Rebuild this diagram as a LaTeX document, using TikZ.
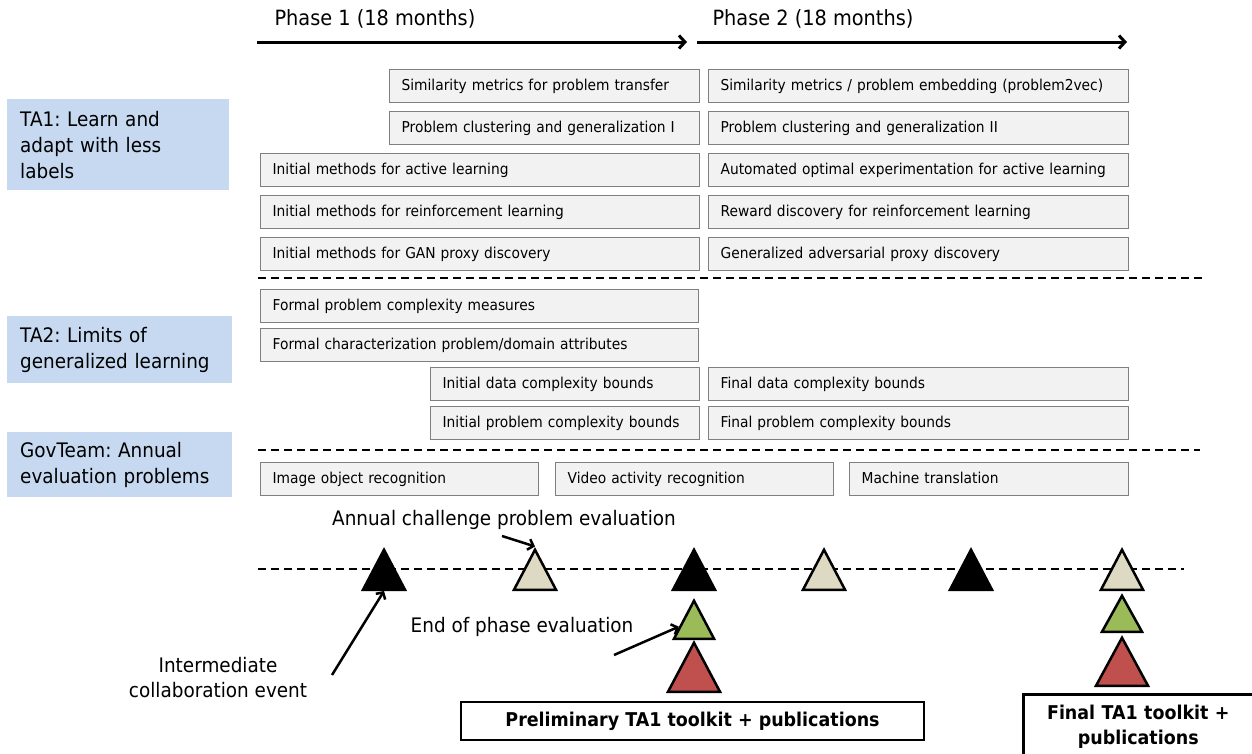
\documentclass[tikz,border=0pt]{standalone}
\usepackage{fontspec}
\setmainfont[FakeStretch=0.92]{DejaVu Sans}
\usetikzlibrary{arrows.meta,shapes.geometric}
\definecolor{tablue}{HTML}{C6D9F1}
\definecolor{taskgray}{HTML}{F2F2F2}
\definecolor{edgegray}{HTML}{7F7F7F}
\definecolor{evaltan}{HTML}{DDD9C3}
\definecolor{evalgreen}{HTML}{9BBB59}
\definecolor{evalred}{HTML}{C0504D}

\tikzset{
  taskbox/.style={draw=edgegray, fill=taskgray, line width=1.2pt, anchor=north west,
    minimum height=33pt, inner xsep=12pt, inner ysep=0pt, align=left,
    text height=13pt, text depth=3.5pt,
    font=\fontsize{15}{18}\selectfont\frenchspacing},
  tabox/.style={fill=tablue, anchor=north west, inner xsep=13pt, inner ysep=0pt,
    align=left, font=\fontsize{20}{26}\selectfont\frenchspacing},
  evtri/.style={isosceles triangle, isosceles triangle stretches, shape border rotate=90,
    draw=black, line width=2.5pt, inner sep=0pt, anchor=south,
    minimum width=42pt, minimum height=40pt},
  sepline/.style={line width=1.3pt, dash pattern=on 8pt off 5pt},
  phasearrow/.style={line width=3pt, -{Straight Barb[length=6pt,width=13pt]}},
  pointer/.style={line width=2.5pt, -{Straight Barb[length=5pt,width=11pt]}},
  notetext/.style={font=\fontsize{20}{25}\selectfont, align=center},
  resultbox/.style={draw=black, line width=2.5pt, fill=white, align=center,
    font=\fontsize{19}{25}\selectfont\bfseries}
}

\begin{document}
\begin{tikzpicture}[x=1pt,y=-1pt]
  \useasboundingbox (0,0) rectangle (1252,753);

  %%%%% phases %%%%%
  \node[anchor=west, font=\fontsize{21}{24}\selectfont] (ph1) at (271,19) {Phase 1 (18 months)};
  \node[anchor=west, font=\fontsize{21}{24}\selectfont] (ph2) at (709,19) {Phase 2 (18 months)};
  \coordinate (p1s) at (257,42);
  \coordinate (p1e) at (687,42);
  \coordinate (p2s) at (697,42);
  \coordinate (p2e) at (1127,42);
  \draw[phasearrow] (p1s) -- (p1e);
  \draw[phasearrow] (p2s) -- (p2e);

  %%%%% TA1 %%%%%
  \node[tabox, text width=196pt, minimum height=91pt] (ta1) at (7,99) {TA1: Learn and\\adapt with less\\labels};

  \node[taskbox, text width=286pt] (simA) at (389,69) {Similarity metrics for problem transfer};
  \node[taskbox, text width=396pt] (simB) at (708,69) {Similarity metrics / problem embedding (problem2vec)};
  \node[taskbox, text width=286pt] (cluA) at (389,111) {Problem clustering and generalization I};
  \node[taskbox, text width=396pt] (cluB) at (708,111) {Problem clustering and generalization II};
  \node[taskbox, text width=415pt] (actA) at (260,153) {Initial methods for active learning};
  \node[taskbox, text width=396pt] (actB) at (708,153) {Automated optimal experimentation for active learning};
  \node[taskbox, text width=415pt] (rlA) at (260,195) {Initial methods for reinforcement learning};
  \node[taskbox, text width=396pt] (rlB) at (708,195) {Reward discovery for reinforcement learning};
  \node[taskbox, text width=415pt] (ganA) at (260,237) {Initial methods for GAN proxy discovery};
  \node[taskbox, text width=396pt] (ganB) at (708,237) {Generalized adversarial proxy discovery};

  \draw[sepline] (258,278) -- (1204,278);

  %%%%% TA2 %%%%%
  \node[tabox, text width=199pt, minimum height=67pt] (ta2) at (7,316) {TA2: Limits of\\generalized learning};

  \node[taskbox, text width=414pt] (cplx) at (260,289) {Formal problem complexity measures};
  \node[taskbox, text width=414pt] (attr) at (260,328) {Formal characterization problem/domain attributes};
  \node[taskbox, text width=245pt] (dataA) at (430,367) {Initial data complexity bounds};
  \node[taskbox, text width=396pt] (dataB) at (708,367) {Final data complexity bounds};
  \node[taskbox, text width=245pt] (probA) at (430,406) {Initial problem complexity bounds};
  \node[taskbox, text width=396pt] (probB) at (708,406) {Final problem complexity bounds};

  \draw[sepline] (258,450) -- (1200,450);

  %%%%% GovTeam %%%%%
  \node[tabox, text width=199pt, minimum height=65pt] (gov) at (7,432) {GovTeam: Annual\\evaluation problems};

  \node[taskbox, text width=254pt] (img) at (260,462) {Image object recognition};
  \node[taskbox, text width=254pt] (vid) at (555,462) {Video activity recognition};
  \node[taskbox, text width=255pt] (mt) at (849,462) {Machine translation};

  %%%%% evaluations %%%%%
  \draw[sepline] (258,569) -- (1184,569);

  \node[evtri, fill=black] (t1) at (384,591) {};
  \node[evtri, fill=evaltan] (t2) at (535,591) {};
  \node[evtri, fill=black] (t3) at (694,591) {};
  \node[evtri, fill=evaltan] (t4) at (824,591) {};
  \node[evtri, fill=black] (t5) at (971,591) {};
  \node[evtri, fill=evaltan] (t6) at (1122,591) {};

  \node[evtri, fill=evalgreen, minimum width=40pt, minimum height=38pt] (g1) at (694,640) {};
  \node[evtri, fill=evalred, minimum width=52pt, minimum height=49pt] (r1) at (694,693) {};
  \node[evtri, fill=evalgreen, minimum width=40pt, minimum height=36pt] (g2) at (1122,633) {};
  \node[evtri, fill=evalred, minimum width=52pt, minimum height=48pt] (r2) at (1122,687) {};

  \node[notetext] (annual) at (504,520) {Annual challenge problem evaluation};
  \node[notetext] (endph) at (522,627) {End of phase evaluation};
  \node[notetext] (inter) at (218,678) {Intermediate\\collaboration event};

  \coordinate (annTail) at (502,536);
  \coordinate (endTail) at (614,655);
  \coordinate (intTail) at (332,675);
  \draw[pointer] (annTail) -- (t2.apex);
  \draw[pointer] (endTail) -- (g1.west);
  \draw[pointer] (intTail) -- (t1.south);

  %%%%% toolkits %%%%%
  \node[resultbox, minimum width=463pt, minimum height=38pt] (prelim) at (692.5,721) {Preliminary TA1 toolkit + publications};
  \node[resultbox, anchor=north west, text width=220pt, minimum width=230pt, minimum height=64pt, inner sep=0pt] (final) at (1022,693) {Final TA1 toolkit +\\publications};
\end{tikzpicture}
\end{document}
